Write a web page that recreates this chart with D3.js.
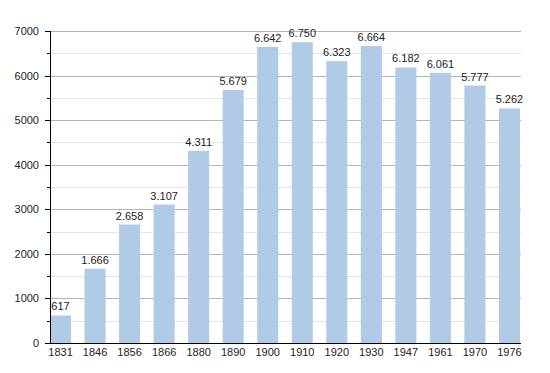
<!DOCTYPE html>
<html>
<head>
<meta charset="utf-8">
<script src="https://cdn.jsdelivr.net/npm/d3@7"></script>
<style>
  body { margin: 0; background: #fff; }
  text { font-family: "Liberation Sans", Arial, sans-serif; font-size: 11px; fill: #222; }
</style>
</head>
<body>
<script>
var years = ["1831", "1846", "1856", "1866", "1880", "1890", "1900", "1910", "1920", "1930", "1947", "1961", "1970", "1976"];
var population = [617, 1666, 2658, 3107, 4311, 5679, 6642, 6750, 6323, 6664, 6182, 6061, 5777, 5262];
var labels = ["617", "1.666", "2.658", "3.107", "4.311", "5.679", "6.642", "6.750", "6.323", "6.664", "6.182", "6.061", "5.777", "5.262"];
var yTicks = [0, 1000, 2000, 3000, 4000, 5000, 6000, 7000];
var yMinor = [500, 1500, 2500, 3500, 4500, 5500, 6500];

var svg = d3.select("body").append("svg")
  .attr("width", 550)
  .attr("height", 373);

var plotLeft = 50, plotRight = 521, plotTop = 31, plotBottom = 343;

var x = d3.scaleBand().domain(years).range([plotLeft, 520]).paddingInner(0.39).paddingOuter(0);
var y = d3.scaleLinear().domain([0, 7000]).range([plotBottom, plotTop]);

function yPix(d) { return Math.round(y(d)) + 0.5; }

// minor gridlines
svg.selectAll(".minor").data(yMinor).enter().append("line")
  .attr("x1", plotLeft).attr("x2", plotRight)
  .attr("y1", yPix).attr("y2", yPix)
  .attr("stroke", "#e4e4e4");

// major gridlines
svg.selectAll(".major").data(yTicks.slice(1)).enter().append("line")
  .attr("x1", plotLeft).attr("x2", plotRight)
  .attr("y1", yPix).attr("y2", yPix)
  .attr("stroke", "#b4b4b4");

// bars
svg.selectAll(".bar").data(population).enter().append("rect")
  .attr("x", function(d, i) { return x(years[i]); })
  .attr("width", x.bandwidth())
  .attr("y", function(d) { return y(d); })
  .attr("height", function(d) { return plotBottom - y(d); })
  .attr("fill", "#b1cae5");

// value labels
svg.selectAll(".val").data(population).enter().append("text")
  .attr("x", function(d, i) { return x(years[i]) + x.bandwidth() / 2; })
  .attr("y", function(d) { return y(d) - 5; })
  .attr("text-anchor", "middle")
  .text(function(d, i) { return labels[i]; });

// y axis
svg.append("line")
  .attr("x1", plotLeft + 0.5).attr("x2", plotLeft + 0.5)
  .attr("y1", plotTop).attr("y2", plotBottom)
  .attr("stroke", "#000");

svg.selectAll(".ytick").data(yTicks).enter().append("line")
  .attr("x1", plotLeft - 5).attr("x2", plotLeft)
  .attr("y1", yPix).attr("y2", yPix)
  .attr("stroke", "#000");

svg.selectAll(".ymtick").data(yMinor).enter().append("line")
  .attr("x1", plotLeft - 3).attr("x2", plotLeft)
  .attr("y1", yPix).attr("y2", yPix)
  .attr("stroke", "#000");

svg.selectAll(".ylab").data(yTicks).enter().append("text")
  .attr("x", 39)
  .attr("y", function(d) { return y(d) + 4; })
  .attr("text-anchor", "end")
  .text(function(d) { return d; });

// x axis
svg.append("line")
  .attr("x1", 45).attr("x2", plotRight)
  .attr("y1", plotBottom + 0.5).attr("y2", plotBottom + 0.5)
  .attr("stroke", "#000");

svg.selectAll(".xlab").data(years).enter().append("text")
  .attr("x", function(d) { return x(d) + x.bandwidth() / 2; })
  .attr("y", 356)
  .attr("text-anchor", "middle")
  .text(function(d) { return d; });
</script>
</body>
</html>
